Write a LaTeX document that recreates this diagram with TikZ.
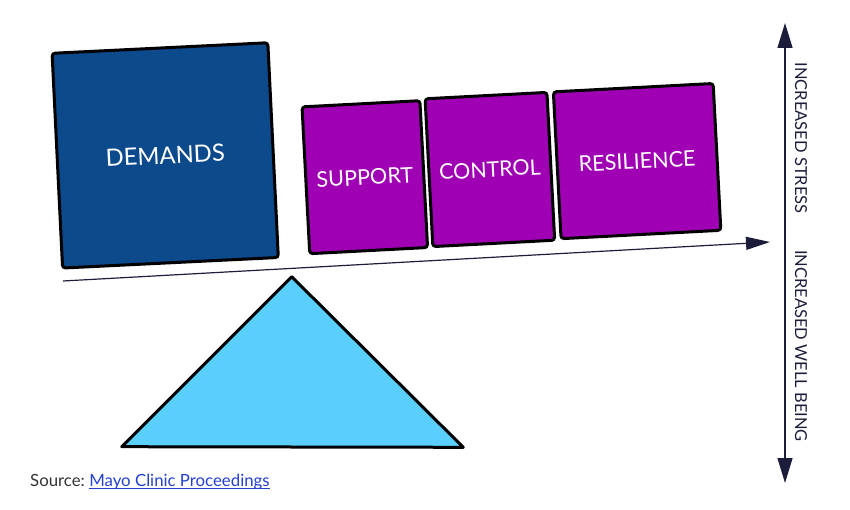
\documentclass[tikz,border=0pt]{standalone}
\usepackage{fontspec}
\setmainfont{Lato}
\usetikzlibrary{arrows.meta}
\definecolor{demblue}{RGB}{12,74,140}
\definecolor{purp}{RGB}{160,0,180}
\definecolor{tri}{RGB}{90,207,252}
\definecolor{navy}{RGB}{27,29,58}
\definecolor{linkblue}{RGB}{36,64,208}
\definecolor{srcgray}{RGB}{51,51,51}
\tikzset{
  blockbox/.style={draw=black, line width=3pt, rounded corners=3pt, inner sep=0pt, text=white, align=center},
  lever/.style={draw=navy, line width=1.2pt, -{Triangle[length=24pt,width=13pt]}},
  scale arrow/.style={draw=navy, line width=1.3pt, {Triangle[length=25pt,width=15pt]}-{Triangle[length=25pt,width=15pt]}},
  sidetext/.style={rotate=-90, text=navy, font=\fontsize{16.5}{18}\selectfont, inner sep=0pt},
  srcfont/.style={inner sep=0pt, font=\fontsize{16.8}{19}\selectfont}
}
\begin{document}
\begin{tikzpicture}[x=1pt,y=-1pt]
\useasboundingbox (0,0) rectangle (850,510);
% fulcrum
\draw[fill=tri, line width=3pt, line join=round] (291.7,276.7) -- (463.3,447.3) -- (121.7,446.7) -- cycle;
% lever
\coordinate (lstart) at (63,281);
\coordinate (lend) at (770,242);
\draw[lever] (lstart) -- (lend);
% blocks
\node[blockbox, fill=demblue, rotate=2.8, minimum width=216pt, minimum height=215pt, font=\fontsize{23.8}{26}\selectfont] (demands) at (165.2,155.4) {DEMANDS};
\node[blockbox, fill=purp, rotate=3, minimum width=118pt, minimum height=147pt, font=\fontsize{21.6}{24}\selectfont] (support) at (364.8,177.2) {SUPPORT};
\node[blockbox, fill=purp, rotate=3, minimum width=122pt, minimum height=148pt, font=\fontsize{21.4}{24}\selectfont] (control) at (489.9,169.5) {CONTROL};
\node[blockbox, fill=purp, rotate=3, minimum width=160pt, minimum height=147pt, font=\fontsize{21.6}{24}\selectfont] (resilience) at (637.1,161.1) {RESILIENCE};
% vertical scale
\coordinate (vtop) at (785,23);
\coordinate (vbot) at (785,483);
\draw[scale arrow] (vtop) -- (vbot);
\node[sidetext] (stress) at (801,138) {INCREASED STRESS};
\node[sidetext] (well) at (801,346) {INCREASED WELL BEING};
% source
\node[srcfont, anchor=base west, text=srcgray] (src) at (30,486) {Source:};
\node[srcfont, anchor=base west, text=linkblue] (link) at ([xshift=4pt]src.base east) {Mayo Clinic Proceedings};
\draw[linkblue, line width=0.8pt] ([yshift=-2.5pt]link.base west) -- ([yshift=-2.5pt]link.base east);
\end{tikzpicture}
\end{document}
